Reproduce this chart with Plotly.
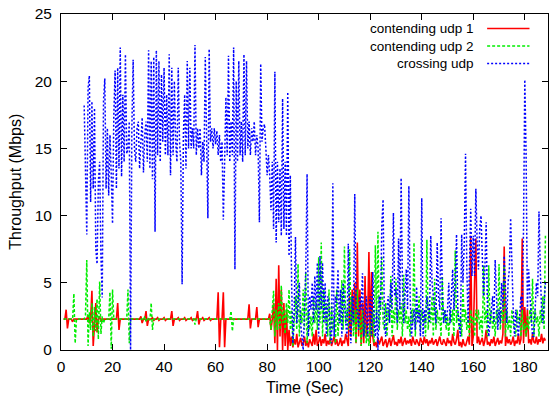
import plotly.graph_objects as go

# Time in seconds (0.5 s sampling, 0 .. 188 s)
time_sec = [i * 0.5 for i in range(377)]

# contending udp 1 (Mbps)
contending_udp_1 = [
    None, None, 2.3, 2.3, 3.0, 1.6, 2.3, 2.3, 2.3, 2.1,
    2.3, 2.3, 2.3, 2.3, 2.3, 2.3, 2.3, 2.3, 2.3, 2.3,
    2.3, 2.6, 2.0, 2.3, 4.4, 0.3, 2.3, 3.5, 1.3, 2.3,
    2.5, 2.1, 2.3, 2.3, 2.3, 2.3, 2.3, 2.3, 2.3, 2.3,
    2.3, 2.3, 2.3, 2.3, 3.5, 1.5, 2.3, 2.3, 2.3, 2.3,
    2.3, 2.3, 2.3, 2.3, 2.3, 2.3, 2.3, 2.3, 2.3, 2.3,
    2.3, 2.3, 2.5, 2.0, 2.3, 2.3, 2.9, 1.8, 2.3, 2.3,
    2.3, 2.4, 2.2, 2.3, 2.3, 2.4, 2.2, 2.3, 2.3, 2.3,
    2.4, 2.2, 2.3, 2.3, 2.3, 2.3, 2.9, 1.8, 2.3, 2.3,
    2.3, 2.4, 2.2, 2.3, 2.3, 2.3, 2.4, 2.2, 2.3, 2.3,
    2.3, 2.4, 2.2, 2.3, 2.3, 2.3, 2.9, 1.9, 2.3, 2.3,
    2.4, 2.2, 2.3, 2.3, 2.3, 2.4, 2.2, 2.3, 2.3, 2.3,
    2.3, 2.3, 4.3, 0.2, 2.3, 2.3, 4.3, 0.2, 2.3, 2.3,
    2.3, 2.3, 2.3, 2.3, 2.3, 2.3, 2.3, 2.3, 2.3, 2.3,
    2.3, 2.3, 2.3, 2.3, 2.3, 2.3, 3.4, 1.6, 2.3, 2.3,
    2.3, 2.3, 3.2, 1.7, 2.3, 2.3, 2.3, 2.3, 2.3, 2.3,
    2.3, 2.3, 2.7, 1.5, 2.3, 3.5, 0.5, 5.3, 0.0, 6.3,
    1.0, 4.5, 0.0, 3.5, 0.3, 3.0, 0.0, 1.5, 0.3, 1.0,
    0.2, 0.8, 0.4, 1.2, 0.2, 0.6, 0.9, 0.3, 0.5, 1.0,
    0.3, 0.7, 0.2, 0.8, 0.5, 0.3, 1.2, 0.4, 1.5, 0.3,
    0.6, 1.0, 0.3, 0.8, 0.5, 1.2, 0.3, 0.7, 0.4, 0.9,
    0.3, 0.6, 1.0, 0.4, 0.8, 0.3, 0.5, 0.9, 0.3, 0.7,
    0.5, 1.2, 0.8, 0.3, 4.0, 1.0, 4.5, 2.0, 5.0, 0.5,
    8.0, 1.0, 4.5, 0.3, 3.5, 0.5, 5.5, 1.0, 2.0, 7.3,
    0.5, 5.8, 1.0, 0.3, 0.6, 0.2, 0.9, 0.4, 0.7, 1.0,
    0.3, 0.6, 0.8, 0.2, 0.5, 0.9, 0.3, 0.7, 1.1, 0.4,
    0.6, 0.3, 0.8, 0.5, 1.0, 0.3, 0.6, 0.9, 0.4, 0.7,
    0.5, 0.8, 0.3, 1.0, 0.6, 0.4, 0.8, 0.5, 0.3, 0.9,
    0.6, 0.4, 1.0, 0.5, 0.8, 0.3, 0.7, 0.5, 0.9, 0.4,
    0.6, 0.8, 0.3, 0.7, 1.0, 0.5, 0.4, 0.8, 0.6, 0.3,
    0.9, 0.5, 0.7, 0.3, 1.2, 0.6, 0.4, 0.8, 1.5, 0.3,
    0.6, 0.2, 0.8, 0.4, 0.3, 0.6, 1.0, 0.4, 8.5, 0.3,
    1.0, 5.0, 8.3, 0.5, 1.0, 0.4, 0.6, 0.9, 0.3, 0.7,
    1.5, 0.4, 0.6, 0.3, 0.8, 0.5, 1.0, 0.3, 0.6, 0.9,
    0.4, 0.7, 0.5, 1.2, 7.7, 0.3, 1.0, 0.5, 0.8, 0.4,
    0.6, 1.0, 0.3, 0.7, 0.5, 1.2, 0.4, 0.8, 8.3, 0.5,
    3.2, 1.0, 3.0, 0.5, 0.8, 0.4, 1.2, 0.6, 0.5, 1.0,
    0.4, 0.8, 0.6, 1.2, 0.5, 0.9, 0.7,
]

# contending udp 2 (Mbps)
contending_udp_2 = [
    None, None, 2.3, 2.3, 2.3, 2.3, 2.3, 2.3, 2.3, 2.3,
    4.2, 0.5, 2.3, 2.3, 2.3, 2.3, 2.3, 2.3, 2.3, 2.6,
    6.7, 0.3, 2.8, 1.5, 3.5, 1.0, 3.2, 1.4, 3.8, 0.8,
    5.1, 1.2, 2.5, 2.0, 2.3, 2.3, 2.3, 2.3, 4.3, 0.1,
    4.5, 2.3, 2.3, 2.3, 2.3, 2.3, 2.3, 2.3, 2.3, 2.3,
    2.3, 2.3, 4.5, 0.5, 2.3, 2.3, 2.3, 2.3, 2.3, 2.3,
    2.3, 2.3, 2.3, 2.3, 2.2, 2.5, 2.1, 2.3, 2.4, 2.2,
    3.5, 1.5, 2.3, 2.3, 2.3, 2.3, 2.3, 2.3, 2.3, 2.3,
    2.3, 2.3, 2.3, 2.3, 2.3, 2.3, 2.3, 2.3, 2.3, 2.3,
    2.3, 2.3, 2.3, 2.3, 2.3, 2.3, 2.3, 2.3, 2.3, 2.3,
    2.3, 2.3, 2.3, 2.3, 1.9, 2.3, 2.3, 2.3, 2.3, 2.3,
    2.3, 2.3, 2.3, 2.3, 2.3, 2.3, 2.3, 2.3, 2.3, 2.3,
    2.3, 2.3, 2.3, 2.3, 2.3, 2.3, 2.3, 2.3, 2.3, 2.3,
    2.3, 2.3, 2.9, 1.4, 2.3, 2.3, 2.3, 2.3, 2.3, 2.3,
    2.3, 2.3, 2.3, 2.3, 2.3, 2.3, 2.3, 2.3, 2.3, 2.3,
    2.3, 2.3, 2.3, 2.3, 2.3, 2.3, 2.3, 2.3, 2.3, 2.3,
    2.3, 2.3, 2.3, 1.5, 3.0, 4.4, 1.0, 3.0, 1.5, 3.5,
    1.5, 4.8, 2.0, 3.0, 1.2, 3.5, 2.0, 4.5, 1.5, 3.0,
    0.3, 2.5, 4.0, 1.5, 6.4, 1.0, 3.0, 2.0, 4.5, 1.5,
    5.8, 0.5, 3.0, 1.5, 2.5, 1.0, 4.0, 2.0, 3.5, 1.5,
    6.9, 2.0, 8.0, 1.0, 4.5, 2.0, 3.5, 1.0, 4.5, 0.5,
    3.5, 1.5, 2.5, 0.5, 4.5, 1.0, 3.0, 2.0, 5.2, 1.5,
    7.7, 2.0, 3.0, 1.5, 7.5, 2.0, 4.0, 1.0, 3.0, 0.5,
    4.5, 1.5, 2.5, 0.3, 3.0, 1.0, 2.0, 0.5, 1.5, 0.3,
    2.0, 1.0, 3.0, 0.5, 7.8, 2.0, 8.8, 1.5, 3.0, 7.0,
    2.0, 1.5, 3.5, 1.0, 3.0, 2.0, 5.5, 1.0, 3.0, 2.0,
    5.3, 1.5, 3.0, 2.0, 3.5, 1.0, 5.6, 2.0, 3.0, 1.5,
    2.5, 1.0, 3.0, 2.0, 8.0, 1.0, 3.0, 2.5, 4.0, 1.5,
    3.0, 2.0, 2.5, 1.0, 8.2, 1.5, 3.0, 2.0, 4.0, 1.0,
    5.3, 1.5, 3.0, 2.0, 2.5, 1.0, 5.5, 2.0, 3.0, 1.5,
    2.5, 1.0, 3.0, 2.0, 3.0, 1.0, 7.4, 2.0, 3.0, 1.5,
    2.5, 1.0, 4.8, 2.0, 3.0, 1.5, 2.5, 1.0, 3.0, 2.0,
    2.5, 1.0, 3.0, 2.0, 3.0, 1.5, 2.5, 1.0, 6.3, 2.0,
    3.0, 1.0, 6.3, 2.0, 3.0, 1.5, 2.5, 1.0, 3.0, 2.0,
    6.4, 1.5, 3.0, 2.0, 6.3, 1.0, 3.0, 1.5, 2.5, 1.0,
    3.0, 2.0, 1.5, 1.0, 3.0, 2.0, 2.5, 1.0, 3.0, 1.5,
    2.0, 1.0, 2.5, 1.5, 3.0, 2.0, 5.3, 1.0, 3.0, 2.0,
    2.5, 1.0, 3.0, 2.0, 4.0, 1.5, 8.5,
]

# crossing udp (Mbps)
crossing_udp = [
    None, None, None, None, None, None, None, None, None, None,
    None, None, None, None, None, None, None, None, 18.2, 13.0,
    8.6, 19.5, 20.4, 11.0, 18.5, 12.0, 18.0, 7.5, 6.4, 12.5,
    14.0, 7.0, 3.9, 18.6, 20.2, 12.0, 16.5, 11.5, 16.0, 13.0,
    9.4, 17.5, 20.8, 12.0, 21.0, 13.5, 22.5, 12.9, 19.0, 14.0,
    22.0, 14.6, 15.0, 17.0, 0.0, 16.5, 21.6, 15.0, 14.0, 16.5,
    17.0, 13.5, 15.5, 17.3, 13.2, 16.0, 17.0, 14.0, 22.3, 13.5,
    21.5, 12.7, 21.8, 8.8, 22.3, 14.5, 21.5, 14.0, 20.5, 15.5,
    21.0, 14.5, 19.0, 14.5, 22.0, 13.0, 21.0, 14.5, 20.0, 15.5,
    14.0, 21.0, 15.5, 14.0, 4.9, 16.0, 19.0, 13.5, 21.5, 15.0,
    21.0, 15.0, 16.5, 15.0, 22.7, 14.5, 16.5, 15.0, 16.5, 13.0,
    15.5, 14.0, 21.8, 13.5, 9.8, 22.4, 15.5, 16.5, 15.0, 16.5,
    15.3, 16.3, 14.5, 16.0, 14.0, 15.5, 9.7, 14.0, 18.8, 14.5,
    21.9, 14.0, 17.0, 14.5, 22.5, 6.0, 20.0, 14.0, 21.5, 14.5,
    17.0, 14.0, 22.0, 14.5, 21.5, 15.0, 17.0, 14.5, 16.5, 15.5,
    17.0, 14.5, 16.0, 15.0, 9.5, 21.3, 15.5, 16.5, 16.8, 15.0,
    13.0, 14.5, 13.0, 10.4, 14.0, 9.0, 20.7, 8.0, 14.0, 9.5,
    13.5, 8.5, 18.7, 9.0, 14.0, 8.5, 19.2, 7.0, 13.0, 5.0,
    0.5, 3.0, 8.4, 2.0, 4.0, 5.0, 2.0, 1.0, 0.0, 3.0,
    6.0, 13.1, 1.0, 4.0, 3.0, 5.0, 2.0, 5.5, 3.0, 6.5,
    1.0, 7.0, 3.0, 6.5, 2.0, 5.0, 1.0, 4.0, 3.5, 1.0,
    0.5, 12.4, 1.0, 4.0, 3.5, 6.0, 2.0, 4.5, 1.0, 5.0,
    3.0, 2.0, 1.0, 7.9, 2.0, 0.5, 4.0, 2.0, 11.6, 3.0,
    3.0, 1.5, 4.0, 3.0, 5.7, 1.0, 2.0, 4.0, 1.0, 2.5,
    4.0, 1.0, 5.8, 2.0, 1.0, 3.0, 0.0, 4.0, 3.0, 9.3,
    11.2, 2.0, 1.0, 3.0, 4.0, 2.0, 5.0, 3.0, 10.2, 4.0,
    4.5, 2.0, 8.3, 3.0, 12.8, 5.0, 2.0, 4.0, 6.0, 3.0,
    12.2, 4.0, 1.0, 2.0, 3.0, 1.5, 4.7, 2.0, 3.0, 1.0,
    11.3, 1.0, 3.0, 2.0, 4.0, 3.0, 2.0, 8.5, 5.0, 4.0,
    3.0, 2.0, 8.0, 4.0, 3.0, 9.8, 4.0, 2.0, 3.0, 2.0,
    3.0, 5.0, 2.0, 4.0, 6.0, 3.0, 5.0, 8.6, 3.0, 2.0,
    1.0, 8.6, 5.0, 8.0, 14.6, 6.0, 2.0, 6.0, 10.5, 5.5,
    8.5, 5.5, 12.0, 8.0, 6.0, 9.0, 10.0, 7.0, 4.0, 6.0,
    9.5, 3.0, 1.0, 2.0, 3.0, 4.0, 2.0, 6.7, 4.0, 1.5,
    3.0, 2.0, 5.0, 3.0, 7.0, 4.0, 2.0, 5.0, 6.0, 9.8,
    5.0, 3.0, 1.0, 3.0, 2.0, 1.0, 2.5, 4.0, 3.0, 9.0,
    20.1, 14.5, 3.0, 6.0, 4.0, 2.0, 1.0, 1.0, 3.0, 5.0,
    4.0, 10.3, 6.0, 3.0, 2.0, 4.0, 5.0,
]

series_names = ["contending udp 1", "contending udp 2", "crossing udp"]
series_values = [contending_udp_1, contending_udp_2, crossing_udp]
series_colors = ["#ff0000", "#00ee00", "#0000ff"]
series_dash = ["solid", "3px,2px", "2px,2px"]
series_width = [1.6, 1.5, 1.5]

x_ticks = [0, 20, 40, 60, 80, 100, 120, 140, 160, 180]
y_ticks = [0, 5, 10, 15, 20, 25]

FONT = "Liberation Sans, Arial, Helvetica, sans-serif"
FS = 15.5
TITLE_FS = 16
KEY_FS = 13.5

fig = go.Figure()
for name, vals, col, dash, w in zip(series_names, series_values, series_colors, series_dash, series_width):
    fig.add_trace(go.Scatter(
        x=time_sec, y=vals, mode="lines", name=name,
        line=dict(color=col, width=w, dash=dash),
        showlegend=False, connectgaps=False, hoverinfo="skip",
    ))

# gnuplot-style key: right-aligned text block with line samples on its right
fig.add_annotation(x=0.850, y=0.905, xref="paper", yref="paper",
                   text="<br>".join(series_names), align="right",
                   showarrow=False, xanchor="right", yanchor="middle", borderpad=0,
                   font=dict(family=FONT, size=KEY_FS, color="black"))
key_rows_y = [0.957, 0.905, 0.853]
for col, dash, w, yk in zip(series_colors, series_dash, series_width, key_rows_y):
    fig.add_shape(type="line", xref="paper", yref="paper", x0=0.875, x1=0.962,
                  y0=yk, y1=yk, line=dict(color=col, width=w, dash=dash))

# axis titles
fig.add_annotation(x=0.5, y=-0.111, xref="paper", yref="paper", text="Time (Sec)",
                   showarrow=False, xanchor="center", yanchor="middle", borderpad=0,
                   font=dict(family=FONT, size=TITLE_FS, color="black"))
fig.add_annotation(x=-0.095, y=0.5, xref="paper", yref="paper", text="Throughput (Mbps)",
                   showarrow=False, xanchor="center", yanchor="middle", textangle=-90,
                   borderpad=0, font=dict(family=FONT, size=TITLE_FS, color="black"))

axis_common = dict(
    showline=True, linecolor="black", linewidth=1, mirror="allticks",
    ticks="inside", ticklen=6, tickcolor="black", tickwidth=1,
    showgrid=False, zeroline=False,
    tickfont=dict(family=FONT, size=FS, color="black"),
)

fig.update_layout(
    width=549, height=402,
    margin=dict(l=61, r=1, t=14, b=52),
    plot_bgcolor="white", paper_bgcolor="white",
    hovermode=False,
    xaxis=dict(range=[0, 189], tickvals=x_ticks, ticklabelstandoff=2, **axis_common),
    yaxis=dict(range=[0, 25], tickvals=y_ticks, ticklabelstandoff=5, **axis_common),
)

# remove the browser's default 8px page margin so the figure fills the window exactly
fig.write_html("out.html",
               config={"displayModeBar": False, "staticPlot": True},
               post_script="document.body.style.margin='0';document.body.style.padding='0';"
                           "document.documentElement.style.overflow='hidden';")
